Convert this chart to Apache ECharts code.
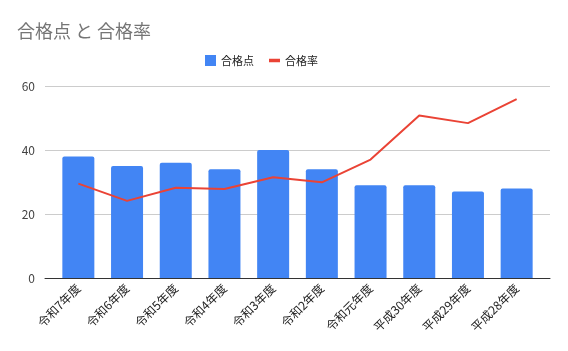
<!DOCTYPE html>
<html>
<head>
<meta charset="utf-8">
<script src="https://cdn.jsdelivr.net/npm/echarts@6/dist/echarts.min.js"></script>
<style>
  html, body { margin: 0; padding: 0; background: #fff; }
  #chart { width: 568px; height: 351px; }
</style>
</head>
<body>
<div id="chart"></div>
<script>
  // 年度ごとのデータ
  var categories = ['令和7年度', '令和6年度', '令和5年度', '令和4年度', '令和3年度', '令和2年度', '令和元年度', '平成30年度', '平成29年度', '平成28年度'];
  var passScore = [38, 35, 36, 34, 40, 34, 29, 29, 27, 28];
  var passRate = [29.5, 24.1, 28.2, 27.8, 31.5, 29.9, 37.0, 50.8, 48.4, 55.9];
  var yTicks = [0, 20, 40, 60];

  var font = '"Noto Sans CJK JP", Roboto, sans-serif';
  var myChart = echarts.init(document.getElementById('chart'));
  myChart.setOption({
    animation: false,
    title: {
      text: '合格点 と 合格率',
      left: 12,
      top: 17,
      textStyle: { color: '#757575', fontSize: 18, fontWeight: 'normal', fontFamily: font }
    },
    legend: {
      top: 50,
      left: 200,
      itemWidth: 11,
      itemHeight: 11,
      itemGap: 15,
      textStyle: { color: '#222', fontSize: 11, fontFamily: font },
      data: [
        { name: '合格点', icon: 'rect' },
        { name: '合格率', icon: 'path://M0,0 L11,0 L11,3.5 L0,3.5 Z' }
      ]
    },
    grid: [
      { left: 45, right: 18, top: 86, bottom: 73 },
      { left: 54, right: 27, top: 86, bottom: 73 }
    ],
    xAxis: [
      {
        type: 'category', gridIndex: 0, data: categories,
        axisTick: { show: false }, axisLabel: { show: false },
        axisLine: { lineStyle: { color: '#333', width: 1 } }
      },
      {
        type: 'category', gridIndex: 1, data: categories,
        axisTick: { show: false }, axisLine: { show: false },
        axisLabel: { interval: 0, rotate: 45, color: '#222', fontSize: 12, fontFamily: font, margin: 8 }
      }
    ],
    yAxis: [
      {
        type: 'value', gridIndex: 0, min: yTicks[0], max: yTicks[yTicks.length - 1], interval: 20,
        axisLine: { show: false }, axisTick: { show: false },
        axisLabel: { color: '#444', fontSize: 12, fontFamily: font, margin: 10 },
        splitLine: { lineStyle: { color: '#ccc' } }
      },
      {
        type: 'value', gridIndex: 1, min: yTicks[0], max: yTicks[yTicks.length - 1], interval: 20,
        axisLine: { show: false }, axisTick: { show: false },
        axisLabel: { show: false }, splitLine: { show: false }
      }
    ],
    series: [
      {
        name: '合格点', type: 'bar', xAxisIndex: 1, yAxisIndex: 1,
        data: passScore, barWidth: 32,
        itemStyle: { color: '#4285F4', borderRadius: [2, 2, 0, 0] }
      },
      {
        name: '合格率', type: 'line', xAxisIndex: 1, yAxisIndex: 1,
        data: passRate, symbol: 'none', z: 3,
        itemStyle: { color: '#EA4335' },
        lineStyle: { color: '#EA4335', width: 2 }
      }
    ]
  });
</script>
</body>
</html>
